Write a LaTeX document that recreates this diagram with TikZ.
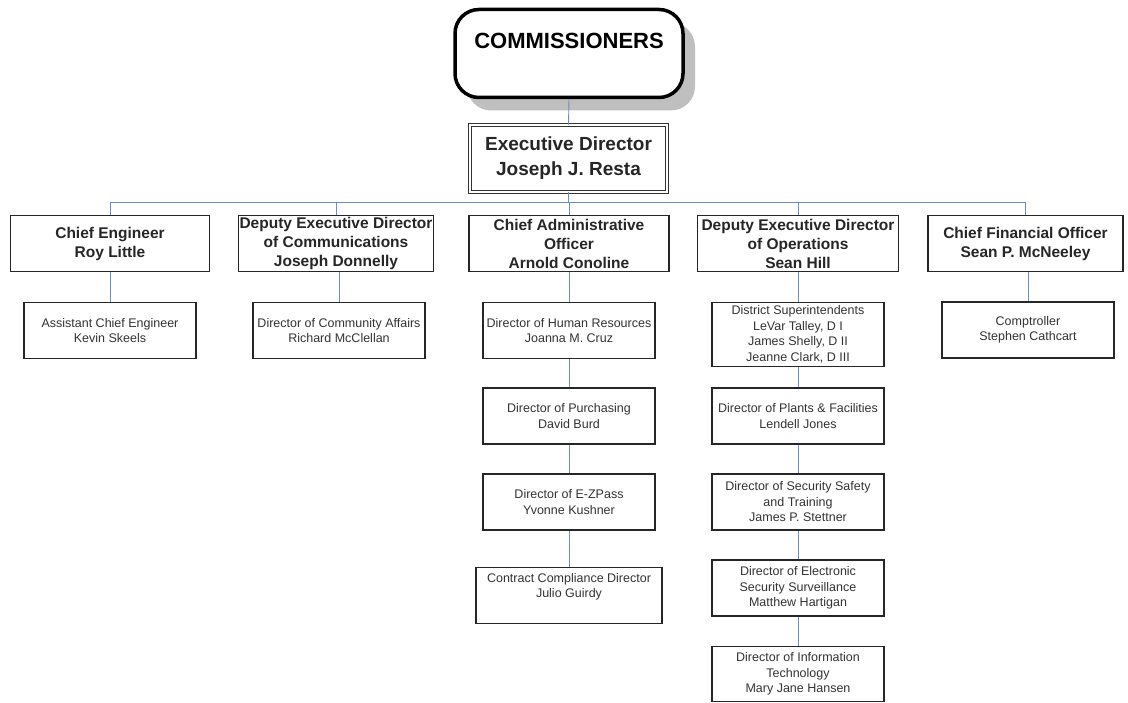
\documentclass[tikz,border=0pt]{standalone}
\usepackage{fontspec}
\setmainfont{Liberation Sans}
\usetikzlibrary{shadows}
\definecolor{linkblue}{RGB}{104,140,200}
\tikzset{
	link/.style={draw=linkblue, line width=0.9pt},
	chiefbox/.style={draw=black!85, line width=1.1pt, fill=white, minimum height=56pt, align=center, inner sep=1pt, font=\fontsize{15.5}{19}\selectfont\bfseries, text=black!85},
	staffbox/.style={draw=black!85, line width=1.1pt, fill=white, minimum width=172pt, minimum height=56pt, align=center, inner sep=1pt, font=\fontsize{12.5}{15.5}\selectfont, text=black!80},
}

\begin{document}
\begin{tikzpicture}[x=1pt, y=-1pt]
			%%%%% START %%%%%
			\useasboundingbox (0, 0) rectangle (1128, 703);
			
			\node[draw=black, line width=3.5pt, rounded corners=24pt, fill=white, minimum width=228pt, minimum height=88pt, align=center, font=\fontsize{22}{19}\selectfont\bfseries, drop shadow={shadow xshift=12pt, shadow yshift=-13pt, fill=black!25, opacity=1}] (comm) at (569, 53.5) {COMMISSIONERS\\\strut};
			
			\node[draw=black!80, double, double distance=2pt, line width=0.7pt, fill=white, minimum width=197pt, minimum height=67pt, align=center, font=\fontsize{19}{25}\selectfont\bfseries, text=black!85] (exec) at (568.5, 158.5) {Executive Director\\Joseph J. Resta};
			
			\node[chiefbox, minimum width=199pt] (ce) at (110, 243.5) {Chief Engineer\\Roy Little};
			\node[chiefbox, minimum width=192pt] (dcom) at (336, 243.5) {Deputy Executive Director\\of Communications\\Joseph Donnelly};
			\node[chiefbox, minimum width=200pt] (cao) at (569, 243.5) {Chief Administrative\\Officer\\Arnold Conoline};
			\node[chiefbox, minimum width=201pt] (dops) at (798, 243.5) {Deputy Executive Director\\of Operations\\Sean Hill};
			\node[chiefbox, minimum width=195pt] (cfo) at (1025.5, 243.5) {Chief Financial Officer\\Sean P. McNeeley};
			
			\node[staffbox] (ace) at (110, 330.5) {Assistant Chief Engineer\\Kevin Skeels};
			\node[staffbox] (dca) at (339, 330.5) {Director of Community Affairs\\Richard McClellan};
			\node[staffbox] (comp) at (1028, 330) {Comptroller\\Stephen Cathcart};
			
			\node[staffbox] (hr) at (569, 330.5) {Director of Human Resources\\Joanna M. Cruz};
			\node[staffbox] (pur) at (569, 416) {Director of Purchasing\\David Burd};
			\node[staffbox] (ezp) at (569, 502) {Director of E-ZPass\\Yvonne Kushner};
			\node[staffbox, minimum width=186pt] (ccd) at (569, 595.5) {Contract Compliance Director\\Julio Guirdy\\\strut};
			
			\node[staffbox, minimum height=64pt] (dsup) at (798, 334.5) {District Superintendents\\LeVar Talley, D I\\James Shelly, D II\\Jeanne Clark, D III};
			\node[staffbox] (pfac) at (798, 416) {Director of Plants \& Facilities\\Lendell Jones};
			\node[staffbox] (sst) at (798, 502) {Director of Security Safety\\and Training\\James P. Stettner};
			\node[staffbox] (ess) at (798, 588) {Director of Electronic\\Security Surveillance\\Matthew Hartigan};
			\node[staffbox, minimum height=55pt] (itd) at (798, 674) {Director of Information\\Technology\\Mary Jane Hansen};
			
			\draw[link] (comm.south) -- (exec.north);
			\foreach \n in {ce, dcom, cao, dops, cfo}
				\draw[link] (exec.south) -- ++(0, 10) -| (\n.north);
			
			\draw[link] (ce.south) -- (ace.north);
			\draw[link] (dca.north |- dcom.south) -- (dca.north);
			\draw[link] (cfo.south -| comp.north) -- (comp.north);
			\draw[link] (cao.south) -- (hr.north);
			\draw[link] (hr.south) -- (pur.north);
			\draw[link] (pur.south) -- (ezp.north);
			\draw[link] (ezp.south) -- (ccd.north);
			\draw[link] (dops.south) -- (dsup.north);
			\draw[link] (dsup.south) -- (pfac.north);
			\draw[link] (pfac.south) -- (sst.north);
			\draw[link] (sst.south) -- (ess.north);
			\draw[link] (ess.south) -- (itd.north);
			
			%%%%% END %%%%%
\end{tikzpicture}
\end{document}
